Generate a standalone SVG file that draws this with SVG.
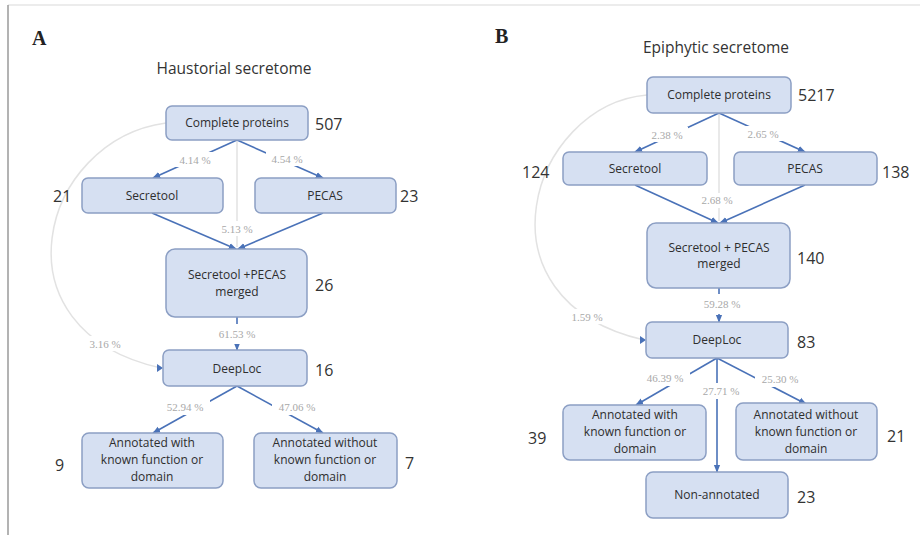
<svg xmlns="http://www.w3.org/2000/svg" width="920" height="535" viewBox="0 0 920 535">
<defs>
<marker id="ah" viewBox="0 0 10 10" refX="9" refY="5" markerWidth="5" markerHeight="5" orient="auto-start-reverse"><path d="M0,1 L10,5 L0,9 z" fill="#4a72b8"/></marker>
<style>
.box{fill:#d6e0f2;stroke:#8c9fc4;stroke-width:1.5}
.bt{font-family:"Open Sans","Liberation Sans",sans-serif;font-size:12px;fill:#2e2e2e;text-anchor:middle}
.num{font-family:"Open Sans","Liberation Sans",sans-serif;font-size:16px;fill:#333}
.ttl{font-family:"Open Sans","Liberation Sans",sans-serif;font-size:15.5px;fill:#333;text-anchor:middle}
.pan{font-family:"Liberation Serif",serif;font-size:20px;font-weight:bold;fill:#222}
.pct{font-family:"Liberation Serif",serif;font-size:11px;fill:#a8a8a8;text-anchor:middle}
.bl{stroke:#4a72b8;stroke-width:1.6;fill:none}
.gl{stroke:#e2e2e2;stroke-width:1.5;fill:none}
.lbg{fill:#fff}
</style>
</defs>
<rect x="0" y="0" width="920" height="535" fill="#fff"/>
<line x1="8" y1="5" x2="920" y2="5" stroke="#ececec" stroke-width="2"/>
<line x1="8" y1="5" x2="8" y2="535" stroke="#9a9a9a" stroke-width="1.5"/>

<text class="pan" x="32" y="45">A</text>
<text class="ttl" x="234" y="74">Haustorial secretome</text>
<text class="pan" x="495" y="43">B</text>
<text class="ttl" x="716" y="53">Epiphytic secretome</text>

<g id="connectors">
<!-- Panel A -->
<path class="gl" d="M166,123 C 40,140 -10,330 161,368"/>
<line class="gl" x1="237" y1="141" x2="237" y2="247"/>
<line class="bl" x1="237" y1="140" x2="153" y2="178" marker-end="url(#ah)"/>
<line class="bl" x1="237" y1="140" x2="323" y2="178" marker-end="url(#ah)"/>
<line class="bl" x1="152" y1="213" x2="236" y2="249" marker-end="url(#ah)"/>
<line class="bl" x1="323" y1="213" x2="238" y2="249" marker-end="url(#ah)"/>
<line class="bl" x1="237" y1="317" x2="237" y2="350" marker-end="url(#ah)"/>
<line class="bl" x1="237" y1="386" x2="153" y2="433" marker-end="url(#ah)"/>
<line class="bl" x1="237" y1="386" x2="323" y2="433" marker-end="url(#ah)"/>
<path d="M157,364 L163,368 L157,372 z" fill="#4a72b8"/>
<!-- Panel B -->
<path class="gl" d="M647,95 C 530,105 470,300 644,340"/>
<line class="gl" x1="719" y1="114" x2="719" y2="221"/>
<line class="bl" x1="719" y1="113" x2="635" y2="152" marker-end="url(#ah)"/>
<line class="bl" x1="719" y1="113" x2="805" y2="152" marker-end="url(#ah)"/>
<line class="bl" x1="635" y1="185" x2="718" y2="223" marker-end="url(#ah)"/>
<line class="bl" x1="805" y1="185" x2="720" y2="223" marker-end="url(#ah)"/>
<line class="bl" x1="719" y1="288" x2="719" y2="322" marker-end="url(#ah)"/>
<line class="bl" x1="717" y1="358" x2="636" y2="405" marker-end="url(#ah)"/>
<line class="bl" x1="717" y1="358" x2="806" y2="404" marker-end="url(#ah)"/>
<line class="bl" x1="717" y1="358" x2="717" y2="472" marker-end="url(#ah)"/>
<path d="M640,336 L646,340 L640,344 z" fill="#4a72b8"/>

<!-- percent labels -->
<rect class="lbg" x="174" y="152" width="42" height="15"/><text class="pct" x="195" y="164">4.14 %</text>
<rect class="lbg" x="266" y="151" width="42" height="15"/><text class="pct" x="287" y="163">4.54 %</text>
<rect class="lbg" x="217" y="221" width="40" height="15"/><text class="pct" x="237" y="233">5.13 %</text>
<rect class="lbg" x="213" y="324" width="48" height="20"/><text class="pct" x="237" y="338">61.53 %</text>
<rect class="lbg" x="84" y="336" width="42" height="15"/><text class="pct" x="105" y="348">3.16 %</text>
<rect class="lbg" x="160" y="399" width="50" height="16"/><text class="pct" x="185" y="411">52.94 %</text>
<rect class="lbg" x="272" y="399" width="50" height="16"/><text class="pct" x="297" y="411">47.06 %</text>

<rect class="lbg" x="646" y="127" width="42" height="15"/><text class="pct" x="667" y="139">2.38 %</text>
<rect class="lbg" x="742" y="126" width="42" height="15"/><text class="pct" x="763" y="138">2.65 %</text>
<rect class="lbg" x="697" y="193" width="40" height="15"/><text class="pct" x="717" y="204">2.68 %</text>
<rect class="lbg" x="697" y="294" width="50" height="20"/><text class="pct" x="722" y="308">59.28 %</text>
<rect class="lbg" x="566" y="309" width="42" height="15"/><text class="pct" x="587" y="321">1.59 %</text>
<rect class="lbg" x="640" y="370" width="50" height="16"/><text class="pct" x="665" y="382">46.39 %</text>
<rect class="lbg" x="696" y="383" width="50" height="16"/><text class="pct" x="721" y="395">27.71 %</text>
<rect class="lbg" x="755" y="371" width="50" height="16"/><text class="pct" x="780" y="383">25.30 %</text>
</g>

<!-- Panel A nodes -->
<g id="a-complete"><rect class="box" x="166" y="106" width="142" height="34" rx="6"/><text class="bt" x="237" y="127">Complete proteins</text><text class="num" x="315" y="130">507</text></g>
<g id="a-secretool"><rect class="box" x="82" y="178" width="141" height="35" rx="6"/><text class="bt" x="152" y="200">Secretool</text><text class="num" x="53" y="202">21</text></g>
<g id="a-pecas"><rect class="box" x="255" y="178" width="141" height="35" rx="6"/><text class="bt" x="325" y="200">PECAS</text><text class="num" x="400" y="202">23</text></g>
<g id="a-merged"><rect class="box" x="166" y="249" width="141" height="68" rx="9"/><text class="bt" x="237" y="279">Secretool +PECAS</text><text class="bt" x="237" y="296">merged</text><text class="num" x="315" y="291">26</text></g>
<g id="a-deeploc"><rect class="box" x="163" y="350" width="144" height="36" rx="6"/><text class="bt" x="237" y="373">DeepLoc</text><text class="num" x="315" y="376">16</text></g>
<g id="a-annot-with"><rect class="box" x="82" y="433" width="141" height="55" rx="7"/><text class="bt" x="152" y="447">Annotated with</text><text class="bt" x="152" y="464">known function or</text><text class="bt" x="152" y="481">domain</text><text class="num" x="55" y="471">9</text></g>
<g id="a-annot-without"><rect class="box" x="254" y="433" width="143" height="55" rx="7"/><text class="bt" x="325" y="447">Annotated without</text><text class="bt" x="325" y="464">known function or</text><text class="bt" x="325" y="481">domain</text><text class="num" x="405" y="469">7</text></g>

<!-- Panel B nodes -->
<g id="b-complete"><rect class="box" x="647" y="77" width="144" height="36" rx="6"/><text class="bt" x="719" y="99">Complete proteins</text><text class="num" x="798" y="101">5217</text></g>
<g id="b-secretool"><rect class="box" x="563" y="152" width="144" height="33" rx="6"/><text class="bt" x="635" y="173">Secretool</text><text class="num" x="522" y="178">124</text></g>
<g id="b-pecas"><rect class="box" x="734" y="152" width="143" height="33" rx="6"/><text class="bt" x="805" y="173">PECAS</text><text class="num" x="882" y="178">138</text></g>
<g id="b-merged"><rect class="box" x="647" y="223" width="143" height="65" rx="9"/><text class="bt" x="719" y="252">Secretool + PECAS</text><text class="bt" x="719" y="268">merged</text><text class="num" x="797" y="264">140</text></g>
<g id="b-deeploc"><rect class="box" x="646" y="322" width="142" height="36" rx="6"/><text class="bt" x="717" y="344">DeepLoc</text><text class="num" x="797" y="348">83</text></g>
<g id="b-annot-with"><rect class="box" x="563" y="405" width="143" height="55" rx="7"/><text class="bt" x="635" y="419">Annotated with</text><text class="bt" x="635" y="436">known function or</text><text class="bt" x="635" y="453">domain</text><text class="num" x="528" y="444">39</text></g>
<g id="b-annot-without"><rect class="box" x="736" y="403" width="141" height="57" rx="7"/><text class="bt" x="806" y="419">Annotated without</text><text class="bt" x="806" y="436">known  function or</text><text class="bt" x="806" y="453">domain</text><text class="num" x="887" y="442">21</text></g>
<g id="b-nonannot"><rect class="box" x="646" y="472" width="142" height="46" rx="7"/><text class="bt" x="717" y="499">Non-annotated</text><text class="num" x="797" y="503">23</text></g>
</svg>
